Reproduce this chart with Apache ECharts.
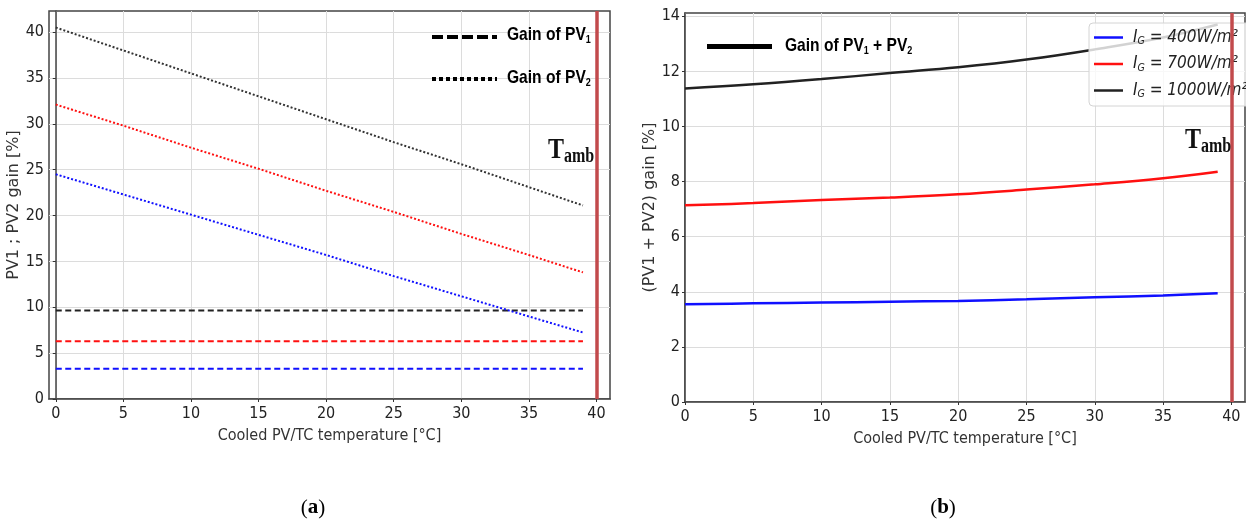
<!DOCTYPE html>
<html>
<head>
<meta charset="utf-8">
<script src="https://cdn.jsdelivr.net/npm/echarts@6/dist/echarts.min.js"></script>
<style>
html,body{margin:0;padding:0;background:#fff;}
#chart{width:1246px;height:524px;}
</style>
</head>
<body>
<div id="chart"></div>
<script>
// ---- data ----
const temps = [0, 5, 10, 15, 20, 25, 30, 35, 39];
const pv1Gain400  = [3.3, 3.3, 3.3, 3.3, 3.3, 3.3, 3.3, 3.3, 3.3];
const pv1Gain700  = [6.3, 6.3, 6.3, 6.3, 6.3, 6.3, 6.3, 6.3, 6.3];
const pv1Gain1000 = [9.65, 9.65, 9.65, 9.65, 9.65, 9.65, 9.65, 9.65, 9.65];
const pv2Gain400  = [24.5, 22.3, 20.1, 17.9, 15.7, 13.4, 11.2, 9.0, 7.25];
const pv2Gain700  = [32.1, 29.8, 27.4, 25.1, 22.7, 20.4, 18.0, 15.7, 13.8];
const pv2Gain1000 = [40.5, 38.0, 35.5, 33.0, 30.5, 28.0, 25.6, 23.1, 21.1];
const sumGain400  = [3.55, 3.58, 3.61, 3.64, 3.67, 3.73, 3.80, 3.87, 3.95];
const sumGain700  = [7.14, 7.22, 7.33, 7.42, 7.54, 7.71, 7.90, 8.12, 8.36];
const sumGain1000 = [11.38, 11.53, 11.72, 11.94, 12.15, 12.43, 12.80, 13.23, 13.70];
const tAmb = 40;
const xTicks = [0, 5, 10, 15, 20, 25, 30, 35, 40];
const yTicksA = [0, 5, 10, 15, 20, 25, 30, 35, 40];
const yTicksB = [0, 2, 4, 6, 8, 10, 12, 14];
const irradianceLabels = {'IG400': '400W/m²', 'IG700': '700W/m²', 'IG1000': '1000W/m²'};

const pairs = ys => temps.map((t, i) => [t, ys[i]]);

const COND = "'DejaVu Sans Condensed','Liberation Sans Narrow','DejaVu Sans',sans-serif";
const BLUE = '#1010ff', RED = '#ff1010', BLK = '#222222', TAMB = '#c24a4c';

const chart = echarts.init(document.getElementById('chart'), null, {renderer: 'canvas'});

function xAxisDef(gridIndex, min, max) {
  return {
    type: 'value', gridIndex, min, max, interval: 5,
    name: 'Cooled PV/TC temperature [°C]', nameLocation: 'middle', nameGap: 29,
    nameTextStyle: {fontFamily: COND, fontSize: 16, color: '#333'},
    axisLine: {show: true, lineStyle: {color: '#444', width: 1.5}},
    axisTick: {show: true, length: 3, customValues: xTicks, lineStyle: {color: '#333'}},
    axisLabel: {customValues: xTicks, fontFamily: COND, fontSize: 16, color: '#222', margin: 7},
    splitLine: {show: true, lineStyle: {color: '#dcdcdc', width: 1}}
  };
}
function yAxisDef(gridIndex, max, interval, ticks, name, gap) {
  return {
    type: 'value', gridIndex, min: 0, max, interval,
    name, nameLocation: 'middle', nameGap: gap, nameRotate: 90,
    nameTextStyle: {fontFamily: "'DejaVu Sans',sans-serif", fontSize: 16, color: '#333'},
    axisLine: {show: true, lineStyle: {color: '#444', width: 1.5}},
    axisTick: {show: true, length: 3, customValues: ticks, lineStyle: {color: '#333'}},
    axisLabel: {customValues: ticks, fontFamily: COND, fontSize: 16, color: '#222', margin: 5},
    splitLine: {show: true, lineStyle: {color: '#dcdcdc', width: 1}}
  };
}

function lineSeries(name, xi, data, color, type, width, extra) {
  return Object.assign({
    name, type: 'line', xAxisIndex: xi, yAxisIndex: xi, data: pairs(data),
    showSymbol: false, symbol: 'none', silent: true,
    lineStyle: {color, width, type}, itemStyle: {color}
  }, extra || {});
}
const tambMark = {
  silent: true, symbol: ['none', 'none'], label: {show: false}, z: 6,
  lineStyle: {color: TAMB, width: 3.5, type: 'solid', opacity: 1},
  data: [{xAxis: tAmb}]
};

const sub = (extra) => Object.assign({fontSize: 11, fontWeight: 'bold', fontFamily: "'Liberation Sans',sans-serif", padding: [9, 0, 0, 0]}, extra || {});

const option = {
  animation: false,
  backgroundColor: '#fff',
  grid: [
    {left: 49, top: 11, width: 561, height: 388, show: true, borderColor: '#444', borderWidth: 1.5},
    {left: 685, top: 13, width: 560, height: 389, show: true, borderColor: '#444', borderWidth: 1.5}
  ],
  xAxis: [xAxisDef(0, -0.5, 41), xAxisDef(1, 0, 41)],
  yAxis: [
    yAxisDef(0, 42.3, 5, yTicksA, 'PV1 ; PV2 gain [%]', 22),
    yAxisDef(1, 14.12, 2, yTicksB, '(PV1 + PV2) gain [%]', 26)
  ],
  legend: {
    data: ['IG400', 'IG700', 'IG1000'],
    orient: 'vertical', left: 1089, top: 23,
    padding: [5, 30, 6, 5], itemWidth: 29, itemHeight: 2.5, itemGap: 7.5, icon: 'rect',
    backgroundColor: 'rgba(255,255,255,0.8)', borderColor: '#d4d4d4', borderWidth: 1, borderRadius: 4,
    selectedMode: false,
    formatter: n => '{i|I}{s|G}{t| = ' + irradianceLabels[n] + '}',
    textStyle: {
      padding: [0, 0, 0, 5],
      rich: {
        i: {fontFamily: COND, fontStyle: 'italic', fontSize: 17, lineHeight: 20, color: '#222'},
        s: {fontFamily: COND, fontStyle: 'italic', fontSize: 10.5, lineHeight: 20, color: '#222', padding: [8, 0, 0, 0]},
        t: {fontFamily: COND, fontStyle: 'italic', fontSize: 17, lineHeight: 20, color: '#222'}
      }
    }
  },
  series: [
    lineSeries('PV1_400', 0, pv1Gain400, BLUE, [6, 3.5], 2, {markLine: tambMark}),
    lineSeries('PV1_700', 0, pv1Gain700, RED, [6, 3.5], 2),
    lineSeries('PV1_1000', 0, pv1Gain1000, BLK, [6, 3.5], 2),
    lineSeries('PV2_400', 0, pv2Gain400, BLUE, [2, 2], 2),
    lineSeries('PV2_700', 0, pv2Gain700, RED, [2, 2], 2),
    lineSeries('PV2_1000', 0, pv2Gain1000, '#333', [2, 2], 2),
    lineSeries('IG400', 1, sumGain400, BLUE, 'solid', 2.5, {smooth: 0.4, markLine: tambMark}),
    lineSeries('IG700', 1, sumGain700, RED, 'solid', 2.5, {smooth: 0.4}),
    lineSeries('IG1000', 1, sumGain1000, BLK, 'solid', 2.5, {smooth: 0.4})
  ],
  graphic: [
    // left annotation legend
    {type: 'line', shape: {x1: 432, y1: 37, x2: 497, y2: 37}, style: {stroke: '#000', lineWidth: 4, lineDash: [11, 4]}, z: 10},
    {type: 'line', shape: {x1: 432, y1: 79, x2: 497, y2: 79}, style: {stroke: '#000', lineWidth: 4, lineDash: [4, 3]}, z: 10},
    {type: 'text', x: 507, y: 35, scaleX: 0.82, z: 10,
      style: {text: '{a|Gain of PV}{b|1}', verticalAlign: 'middle', fill: '#000',
        rich: {a: {fontSize: 19, fontWeight: 'bold', fontFamily: "'Liberation Sans',sans-serif"}, b: sub()}}},
    {type: 'text', x: 507, y: 78, scaleX: 0.82, z: 10,
      style: {text: '{a|Gain of PV}{b|2}', verticalAlign: 'middle', fill: '#000',
        rich: {a: {fontSize: 19, fontWeight: 'bold', fontFamily: "'Liberation Sans',sans-serif"}, b: sub()}}},
    // right annotation legend
    {type: 'line', shape: {x1: 707, y1: 46.5, x2: 772, y2: 46.5}, style: {stroke: '#000', lineWidth: 5}, z: 10},
    {type: 'text', x: 785, y: 46, scaleX: 0.82, z: 10,
      style: {text: '{a|Gain of PV}{b|1}{a| + PV}{b|2}', verticalAlign: 'middle', fill: '#000',
        rich: {a: {fontSize: 19, fontWeight: 'bold', fontFamily: "'Liberation Sans',sans-serif"}, b: sub()}}},
    // T_amb labels
    {type: 'text', x: 548, y: 150, scaleX: 0.8, z: 10,
      style: {text: '{t|T}{s|amb}', verticalAlign: 'middle', fill: '#111',
        rich: {t: {fontSize: 30, fontWeight: 'bold', fontFamily: "'Liberation Serif',serif"},
               s: {fontSize: 20, fontWeight: 'bold', fontFamily: "'Liberation Serif',serif", padding: [14, 0, 0, 0]}}}},
    {type: 'text', x: 1185, y: 140, scaleX: 0.8, z: 10,
      style: {text: '{t|T}{s|amb}', verticalAlign: 'middle', fill: '#111',
        rich: {t: {fontSize: 30, fontWeight: 'bold', fontFamily: "'Liberation Serif',serif"},
               s: {fontSize: 20, fontWeight: 'bold', fontFamily: "'Liberation Serif',serif", padding: [14, 0, 0, 0]}}}},
    // panel labels
    {type: 'text', x: 313, y: 508, z: 10,
      style: {text: '{p|(}{b|a}{p|)}', align: 'center', verticalAlign: 'middle', fill: '#000',
        rich: {p: {fontSize: 21, fontFamily: "'Liberation Serif',serif"}, b: {fontSize: 21, fontWeight: 'bold', fontFamily: "'Liberation Serif',serif"}}}},
    {type: 'text', x: 943, y: 508, z: 10,
      style: {text: '{p|(}{b|b}{p|)}', align: 'center', verticalAlign: 'middle', fill: '#000',
        rich: {p: {fontSize: 21, fontFamily: "'Liberation Serif',serif"}, b: {fontSize: 21, fontWeight: 'bold', fontFamily: "'Liberation Serif',serif"}}}}
  ]
};
chart.setOption(option);
</script>
</body>
</html>
